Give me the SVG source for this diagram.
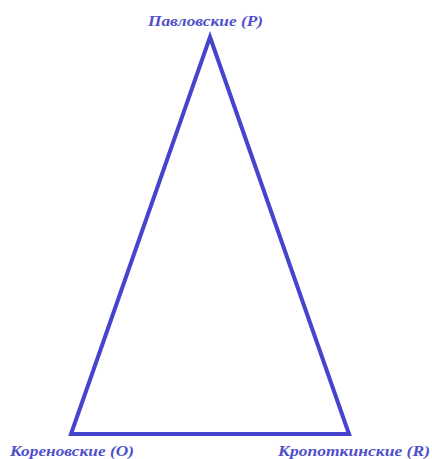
<svg xmlns="http://www.w3.org/2000/svg" width="432" height="459" viewBox="0 0 432 459">
<style>
.lbl{font-family:"Liberation Serif","Times New Roman",serif;font-style:italic;font-weight:bold;font-size:14px;fill:#5050c8}
.edge{stroke:#4444cc;stroke-width:4;fill:none;stroke-linejoin:miter}
</style>
<rect width="432" height="459" fill="#fff"/>
<g id="connectors">
<polygon class="edge" points="210,37 349,434 71,434"/>
</g>
<g id="node-P"><text class="lbl" x="148" y="26" textLength="115" lengthAdjust="spacingAndGlyphs">Павловские (P)</text></g>
<g id="node-O"><text class="lbl" x="10" y="456" textLength="124" lengthAdjust="spacingAndGlyphs">Кореновские (О)</text></g>
<g id="node-R"><text class="lbl" x="278" y="456" textLength="152" lengthAdjust="spacingAndGlyphs">Кропоткинские (R)</text></g>
</svg>
